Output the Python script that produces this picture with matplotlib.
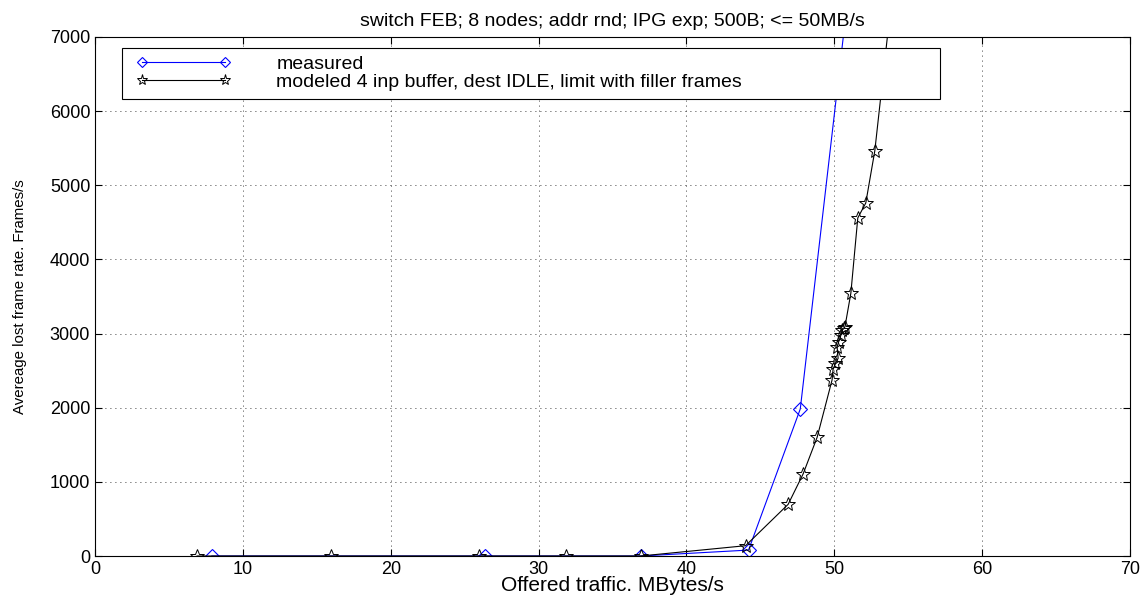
import matplotlib.pyplot as plt
from matplotlib.legend_handler import HandlerLine2D

plt.rcParams['font.family'] = ['Liberation Sans', 'DejaVu Sans']

# measured lost frame rate
meas_x = [7.9, 26.4, 36.9, 44.2, 47.7, 52.0]
meas_y = [0, 0, 0, 80, 1983, 9400]

# modeled: 4 input buffer, dest IDLE, limit with filler frames
mod_x = [6.9, 15.96, 26.0, 31.85, 36.9, 44.0, 46.88, 47.89, 48.84, 49.85, 49.92,
         50.08, 50.26, 50.19, 50.30, 50.45, 50.55, 50.66, 50.72, 51.12, 51.59,
         52.13, 52.74, 54.2]
mod_y = [0, 0, 0, 0, 0, 139, 697, 1106, 1601, 2374, 2518,
         2598, 2666, 2823, 2891, 2980, 3048, 3071, 3090, 3543, 4559,
         4761, 5463, 8100]

fig = plt.figure(figsize=(11.48, 5.96), dpi=100)
ax = fig.add_axes([0.0828, 0.0671, 0.9015, 0.8709])

l1, = ax.plot(meas_x, meas_y, color='b', lw=0.8, marker='D', ms=7, mfc='none',
              mec='b', mew=0.8, label='measured')
l2, = ax.plot(mod_x, mod_y, color='k', lw=0.8, marker='*', ms=10, mfc='none',
              mec='k', mew=0.7,
              label='modeled 4 inp buffer, dest IDLE, limit with filler frames')

ax.set_xlim(0, 70)
ax.set_ylim(0, 7000)
ax.set_xticks(range(0, 71, 10))
ax.set_yticks(range(0, 7001, 1000))
ax.tick_params(direction='in', top=True, right=True, labelsize=13, length=5)
ax.grid(True, linestyle=(0, (1, 5)), color='k', lw=0.6)

ax.set_title('switch FEB; 8 nodes; addr rnd; IPG exp; 500B; <= 50MB/s',
             fontsize=14, pad=8)
ax.set_xlabel('Offered traffic. MBytes/s', fontsize=15, labelpad=-1)
ax.set_ylabel('Avereage lost frame rate. Frames/s', fontsize=10.8)
ax.yaxis.set_label_coords(-0.066, 0.5)

hm = {l1: HandlerLine2D(marker_pad=0.63), l2: HandlerLine2D(marker_pad=0.63)}
leg = ax.legend(loc='upper left', bbox_to_anchor=(0.026, 0.88, 0.79, 0.099),
                mode='expand', numpoints=2, handlelength=5.54, fontsize=14,
                fancybox=False, framealpha=1, borderaxespad=0, borderpad=0.4,
                labelspacing=0.0, handletextpad=2.0, markerscale=0.8,
                handler_map=hm)
leg.get_frame().set_edgecolor('k')
leg.get_frame().set_linewidth(0.8)

fig.savefig('out.png', dpi=100)
